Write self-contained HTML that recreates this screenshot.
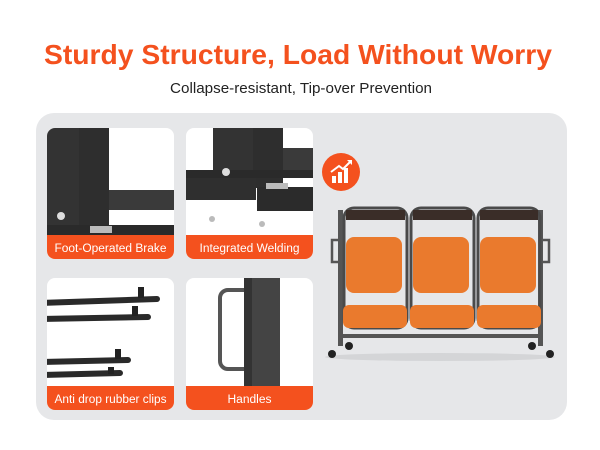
<!DOCTYPE html>
<html><head><meta charset="utf-8"><style>html,body{margin:0;padding:0;background:#fff}svg{display:block}</style></head>
<body>
<svg width="600" height="450" viewBox="0 0 600 450" xmlns="http://www.w3.org/2000/svg" font-family="Liberation Sans, sans-serif">
<rect width="600" height="450" fill="#fff"/>
<text x="298" y="64" text-anchor="middle" font-size="28" font-weight="bold" fill="#f4511e" textLength="508" lengthAdjust="spacingAndGlyphs">Sturdy Structure, Load Without Worry</text>
<text x="301" y="93" text-anchor="middle" font-size="15" fill="#222" textLength="262" lengthAdjust="spacingAndGlyphs">Collapse-resistant, Tip-over Prevention</text>
<rect x="36" y="113" width="531" height="307" rx="18" fill="#e6e7e9"/>
<!-- card 1 -->
<g>
<clipPath id="c1"><rect x="47" y="128" width="127" height="131" rx="8"/></clipPath>
<g clip-path="url(#c1)">
<rect x="47" y="128" width="127" height="131" fill="#fff"/>
<rect x="47" y="128" width="32" height="100" fill="#333"/>
<rect x="79" y="128" width="30" height="100" fill="#2e2e2e"/>
<rect x="109" y="190" width="65" height="20" fill="#3a3a3a"/>
<rect x="47" y="225" width="127" height="12" fill="#2a2a2a"/>
<circle cx="61" cy="216" r="4" fill="#ddd"/>
<rect x="90" y="226" width="22" height="7" fill="#bbb"/>
</g>
<path d="M47 235 h127 v16 a8 8 0 0 1 -8 8 h-111 a8 8 0 0 1 -8 -8z" fill="#f4511e"/>
<text x="110.5" y="252" text-anchor="middle" font-size="11.5" fill="#fff" textLength="112" lengthAdjust="spacingAndGlyphs">Foot-Operated Brake</text>
</g>
<!-- card 2 -->
<g>
<clipPath id="c2"><rect x="186" y="128" width="127" height="131" rx="8"/></clipPath>
<g clip-path="url(#c2)">
<rect x="186" y="128" width="127" height="131" fill="#fff"/>
<rect x="213" y="128" width="40" height="60" fill="#333"/>
<rect x="253" y="128" width="30" height="60" fill="#2e2e2e"/>
<rect x="283" y="148" width="30" height="22" fill="#3a3a3a"/>
<rect x="186" y="170" width="127" height="8" fill="#2a2a2a"/>
<rect x="186" y="178" width="70" height="22" fill="#2f2f2f"/>
<rect x="257" y="187" width="56" height="24" fill="#2b2b2b"/>
<circle cx="226" cy="172" r="4" fill="#ddd"/>
<rect x="266" y="183" width="22" height="6" fill="#bbb"/>
<circle cx="212" cy="219" r="3" fill="#bbb"/><circle cx="262" cy="224" r="3" fill="#bbb"/>
</g>
<path d="M186 235 h127 v16 a8 8 0 0 1 -8 8 h-111 a8 8 0 0 1 -8 -8z" fill="#f4511e"/>
<text x="249.5" y="252" text-anchor="middle" font-size="11.5" fill="#fff" textLength="100" lengthAdjust="spacingAndGlyphs">Integrated Welding</text>
</g>
<!-- card 3 -->
<g>
<clipPath id="c3"><rect x="47" y="278" width="127" height="132" rx="8"/></clipPath>
<g clip-path="url(#c3)">
<rect x="47" y="278" width="127" height="132" fill="#fff"/>
<g stroke="#2a2a2a" stroke-width="6" stroke-linecap="round">
<line x1="40" y1="303" x2="157" y2="299"/>
<line x1="40" y1="319" x2="148" y2="317"/>
<line x1="40" y1="362" x2="128" y2="360"/>
<line x1="40" y1="375" x2="120" y2="373"/>
</g>
<g fill="#222"><rect x="138" y="287" width="6" height="11"/><rect x="132" y="306" width="6" height="10"/><rect x="115" y="349" width="6" height="10"/><rect x="108" y="367" width="6" height="7"/></g>
</g>
<path d="M47 386 h127 v16 a8 8 0 0 1 -8 8 h-111 a8 8 0 0 1 -8 -8z" fill="#f4511e"/>
<text x="110.5" y="403" text-anchor="middle" font-size="11.5" fill="#fff" textLength="112" lengthAdjust="spacingAndGlyphs">Anti drop rubber clips</text>
</g>
<!-- card 4 -->
<g>
<clipPath id="c4"><rect x="186" y="278" width="127" height="132" rx="8"/></clipPath>
<g clip-path="url(#c4)">
<rect x="186" y="278" width="127" height="132" fill="#fff"/>
<rect x="244" y="278" width="36" height="110" fill="#444"/>
<rect x="244" y="278" width="8" height="110" fill="#333"/>
<path d="M244 290 h-16 a8 8 0 0 0 -8 8 v63 a8 8 0 0 0 8 8 h16" fill="none" stroke="#555" stroke-width="4"/>
</g>
<path d="M186 386 h127 v16 a8 8 0 0 1 -8 8 h-111 a8 8 0 0 1 -8 -8z" fill="#f4511e"/>
<text x="249.5" y="403" text-anchor="middle" font-size="11.5" fill="#fff" textLength="44" lengthAdjust="spacingAndGlyphs">Handles</text>
</g>
<!-- icon -->
<circle cx="341" cy="172" r="19" fill="#f4511e"/>
<g fill="#fff"><rect x="332" y="176" width="4" height="7"/><rect x="338" y="172" width="4" height="11"/><rect x="344" y="168" width="4" height="15"/></g>
<path d="M331 172 l8 -6 l4 3 l7 -7" stroke="#fff" stroke-width="2" fill="none"/>
<path d="M347 160 l5 0 l0 5z" fill="#fff"/>
<!-- cart -->
<g>
<ellipse cx="440" cy="357" rx="115" ry="4" fill="#d4d5d7"/>
<rect x="338" y="210" width="5" height="136" fill="#555"/>
<rect x="538" y="210" width="5" height="136" fill="#555"/>
<rect x="338" y="334" width="205" height="4" fill="#555"/>
<path d="M338 240 h-6 v22 h6 M543 240 h6 v22 h-6" stroke="#555" stroke-width="2.5" fill="none"/>
<g fill="none" stroke="#4a4a4a" stroke-width="3">
<rect x="344" y="208" width="63" height="120" rx="10"/>
<rect x="411" y="208" width="63" height="120" rx="10"/>
<rect x="478" y="208" width="62" height="120" rx="10"/>
</g>
<g fill="#3a2d28"><rect x="346" y="210" width="59" height="10"/><rect x="413" y="210" width="59" height="10"/><rect x="480" y="210" width="58" height="10"/></g>
<g fill="#ea7a2d">
<rect x="346" y="237" width="56" height="56" rx="8"/>
<rect x="413" y="237" width="56" height="56" rx="8"/>
<rect x="480" y="237" width="56" height="56" rx="8"/>
<rect x="343" y="305" width="64" height="23" rx="6"/>
<rect x="410" y="305" width="64" height="23" rx="6"/>
<rect x="477" y="305" width="64" height="23" rx="6"/>
</g>
<g fill="#222"><circle cx="332" cy="354" r="4"/><circle cx="349" cy="346" r="4"/><circle cx="532" cy="346" r="4"/><circle cx="550" cy="354" r="4"/></g>
</g>
</svg>
</body></html>
